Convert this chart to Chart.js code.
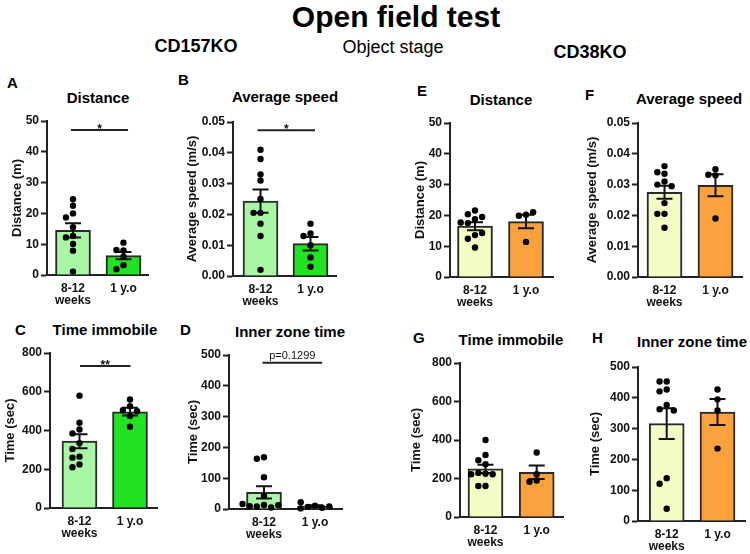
<!DOCTYPE html>
<html><head><meta charset="utf-8">
<script src="https://cdn.jsdelivr.net/npm/chart.js@4.4.1/dist/chart.umd.min.js"></script>
<style>
body{margin:0;width:750px;height:554px;background:#fff;position:relative;overflow:hidden;font-family:"Liberation Sans",Arial,sans-serif;}
.t{position:absolute;white-space:nowrap;color:#000;line-height:1;font-weight:bold;}
.c{transform:translateX(-50%);}
canvas{position:absolute;}
</style></head><body>
<div class="t c" style="left:396px;top:2px;font-size:30px;">Open field test</div>
<div class="t c" style="left:196px;top:37px;font-size:18px;">CD157KO</div>
<div class="t c" style="left:393px;top:38px;font-size:18px;font-weight:normal;">Object stage</div>
<div class="t c" style="left:590px;top:43px;font-size:18px;">CD38KO</div>

<div class="t c" style="left:98px;top:90px;font-size:15px;">Distance</div>
<div class="t c" style="left:285px;top:89px;font-size:15px;">Average speed</div>
<div class="t c" style="left:105px;top:322px;font-size:15px;">Time immobile</div>
<div class="t c" style="left:290px;top:324px;font-size:15px;">Inner zone time</div>
<div class="t c" style="left:501px;top:92px;font-size:15px;">Distance</div>
<div class="t c" style="left:689px;top:91px;font-size:15px;">Average speed</div>
<div class="t c" style="left:511px;top:332px;font-size:15px;">Time immobile</div>
<div class="t c" style="left:692px;top:334px;font-size:15px;">Inner zone time</div>

<div class="t" style="left:7px;top:75px;font-size:15px;">A</div>
<div class="t" style="left:178px;top:72px;font-size:15px;">B</div>
<div class="t" style="left:15px;top:322px;font-size:15px;">C</div>
<div class="t" style="left:180px;top:322px;font-size:15px;">D</div>
<div class="t" style="left:417px;top:83px;font-size:15px;">E</div>
<div class="t" style="left:585px;top:87px;font-size:15px;">F</div>
<div class="t" style="left:413px;top:330px;font-size:15px;">G</div>
<div class="t" style="left:592px;top:330px;font-size:15px;">H</div>

<script>
// ---------- data ----------
const categories = [['8-12', 'weeks'], '1 y.o'];

const distKoMeans = [14.5, 6.3];
const distKoSem = [2.3, 1.2];
const distKoYoung = [24.6, 22.5, 20.0, 18.7, 15.5, 12.7, 12.2, 10.1, 7.9, 1.1];
const distKoOld = [10.5, 8.0, 8.1, 6.0, 3.2, 1.9];

const speedKoMeans = [0.0243, 0.0105];
const speedKoSem = [0.0038, 0.0022];
const speedKoYoung = [0.041, 0.038, 0.033, 0.031, 0.025, 0.0205, 0.0205, 0.017, 0.013, 0.002];
const speedKoOld = [0.017, 0.0138, 0.013, 0.010, 0.006, 0.003];

const immKoMeans = [345, 497];
const immKoSem = [36, 20];
const immKoYoung = [580, 440, 405, 385, 335, 305, 265, 260, 225, 210];
const immKoOld = [560, 525, 505, 500, 475, 420];

const innerKoMeans = [54, 9];
const innerKoSem = [20, 3];
const innerKoYoung = [168, 163, 103, 43, 13, 8, 5, 9, 12, 16];
const innerKoOld = [11, 7, 4, 2, 8, 22];

const distCdMeans = [16.5, 18.0];
const distCdSem = [1.3, 2.2];
const distCdYoung = [21.6, 18.8, 20.4, 19.5, 17.5, 17.7, 13.6, 12.4, 14.3, 9.6];
const distCdOld = [20.2, 19.9, 21.0, 11.4];

const speedCdMeans = [0.0275, 0.0298];
const speedCdSem = [0.0021, 0.0036];
const speedCdYoung = [0.036, 0.034, 0.0335, 0.031, 0.030, 0.0295, 0.024, 0.0205, 0.0205, 0.016];
const speedCdOld = [0.035, 0.0332, 0.033, 0.019];

const immCdMeans = [250, 232];
const immCdSem = [22, 35];
const immCdYoung = [400, 322, 295, 274, 225, 229, 222, 222, 161, 161];
const immCdOld = [335, 222, 190, 183];

const innerCdMeans = [316, 354];
const innerCdSem = [50, 42];
const innerCdYoung = [453, 453, 427, 421, 377, 363, 359, 139, 121, 40];
const innerCdOld = [427, 395, 359, 235];

// ---------- styles ----------
const GREEN_L = '#a9f7a4', GREEN = '#22e322', YELLOW = '#f4fcc6', ORANGE = '#fba23f';
const FONT = '"Liberation Sans", Arial, sans-serif';

// swarm offsets (deterministic, avoids overlapping dots)
function swarm(vals, range) {
  const thr = range * 0.04, dx = 0.14, placed = [];
  return vals.map(v => {
    for (const c of [0, -1, 1, -2, 2, -3, 3]) {
      if (!placed.some(p => p.c === c && Math.abs(p.v - v) < thr)) { placed.push({c, v}); return c * dx; }
    }
    return 0;
  });
}

const errorBarPlugin = {
  id: 'errbars',
  afterDatasetDraw(chart, args) {
    if (args.index !== 0) return;
    const p = chart.config.options.plugins.errbars;
    const xs = chart.scales.x, ys = chart.scales.y, ctx = chart.ctx;
    ctx.save();
    ctx.strokeStyle = '#111'; ctx.lineWidth = 2;
    p.means.forEach((m, i) => {
      const x = xs.getPixelForValue(i);
      const y1 = ys.getPixelForValue(m + p.sem[i]), y2 = ys.getPixelForValue(m - p.sem[i]);
      ctx.beginPath();
      ctx.moveTo(x, y1); ctx.lineTo(x, y2);
      ctx.moveTo(x - 8, y1); ctx.lineTo(x + 8, y1);
      ctx.moveTo(x - 8, y2); ctx.lineTo(x + 8, y2);
      ctx.stroke();
    });
    ctx.restore();
  }
};

const sigPlugin = {
  id: 'sig',
  afterDraw(chart) {
    const s = chart.config.options.plugins.sig;
    if (!s || !s.text) return;
    const xs = chart.scales.x, ys = chart.scales.y, ctx = chart.ctx;
    const x1 = xs.getPixelForValue(s.from), x2 = xs.getPixelForValue(s.to), y = ys.getPixelForValue(s.y);
    ctx.save();
    ctx.strokeStyle = '#222'; ctx.lineWidth = 2;
    ctx.beginPath(); ctx.moveTo(x1, y); ctx.lineTo(x2, y); ctx.stroke();
    ctx.fillStyle = '#111';
    ctx.font = s.font; ctx.textAlign = 'center'; ctx.textBaseline = 'alphabetic';
    ctx.fillText(s.text, (x1 + x2) / 2, y - s.gap);
    ctx.restore();
  }
};

function panel(lay, d) {
  const padTop = 10, padRight = 8, xH = 40;
  const cv = document.createElement('canvas');
  const w = lay.R - lay.L + lay.yW + padRight, h = lay.B - lay.T + padTop + xH;
  cv.width = w; cv.height = h;
  cv.style.left = (lay.L - lay.yW) + 'px';
  cv.style.top = (lay.T - padTop) + 'px';
  document.body.appendChild(cv);
  const unit = lay.c2 - lay.c1;
  const xMin = (lay.L - lay.c1) / unit, xMax = (lay.R - lay.c1) / unit;
  const offY = swarm(d.young, d.yMax), offO = swarm(d.old, d.yMax);
  const pts = d.young.map((v, i) => ({x: 0 + offY[i], y: v}))
    .concat(d.old.map((v, i) => ({x: 1 + offO[i], y: v})));
  new Chart(cv, {
    type: 'bar',
    data: {
      datasets: [
        {type: 'bar', data: d.means.map((m, i) => ({x: i, y: m})), backgroundColor: d.colors,
         borderColor: '#2a2a2a', borderWidth: 2, barThickness: 35, order: 2},
        {type: 'scatter', data: pts, pointRadius: 3.2, pointBackgroundColor: '#000',
         pointBorderWidth: 0, order: 1, clip: false}
      ]
    },
    options: {
      responsive: false, animation: false, events: [],
      layout: {padding: {top: padTop, right: padRight, left: 0, bottom: 0}},
      plugins: {
        legend: {display: false}, tooltip: {enabled: false},
        errbars: {means: d.means, sem: d.sem},
        sig: d.sig
      },
      scales: {
        x: {
          type: 'linear', min: xMin, max: xMax, offset: false,
          afterFit(s) { s.height = xH; },
          afterBuildTicks(s) { s.ticks = [{value: 0}, {value: 1}]; },
          grid: {drawOnChartArea: false, drawTicks: false, offset: false},
          border: {display: true, color: '#222', width: 2},
          ticks: {padding: 8, autoSkip: false, maxRotation: 0, color: '#111',
                  font: {family: FONT, size: 12, weight: 'bold', lineHeight: 1.0},
                  callback: v => categories[v]}
        },
        y: {
          min: 0, max: d.yMax,
          afterFit(s) { s.width = lay.yW; },
          grid: {drawOnChartArea: false, drawTicks: true, tickLength: 6, tickWidth: 2, tickColor: '#222'},
          border: {display: true, color: '#222', width: 2},
          ticks: {stepSize: d.step, padding: 2, color: '#111',
                  font: {family: FONT, size: 12, weight: 'bold'},
                  callback: v => d.decimals ? Number(v).toFixed(d.decimals) : String(Math.round(v))},
          title: {display: true, text: d.yTitle, color: '#111', padding: {top: 2, bottom: 0},
                  font: {family: FONT, size: 13, weight: 'bold'}}
        }
      }
    },
    plugins: [errorBarPlugin, sigPlugin]
  });
}

const boldStar = 'bold 12px ' + FONT;

// A
panel({L: 47, R: 148, T: 121, B: 275, yW: 39, c1: 73, c2: 123.5},
  {means: distKoMeans, sem: distKoSem, young: distKoYoung, old: distKoOld, yMax: 50, step: 10,
   yTitle: 'Distance (m)', colors: [GREEN_L, GREEN],
   sig: {from: -0.04, to: 1.09, y: 47.1, text: '*', font: boldStar, gap: -3}});
// B
panel({L: 233, R: 336, T: 122, B: 276, yW: 50, c1: 260.5, c2: 310.5},
  {means: speedKoMeans, sem: speedKoSem, young: speedKoYoung, old: speedKoOld, yMax: 0.05, step: 0.01, decimals: 2,
   yTitle: 'Average speed (m/s)', colors: [GREEN_L, GREEN],
   sig: {from: -0.06, to: 1.09, y: 0.0473, text: '*', font: boldStar, gap: -3}});
// C
panel({L: 50, R: 157, T: 353, B: 508, yW: 49, c1: 79.5, c2: 130},
  {means: immKoMeans, sem: immKoSem, young: immKoYoung, old: immKoOld, yMax: 800, step: 200,
   yTitle: 'Time (sec)', colors: [GREEN_L, GREEN],
   sig: {from: 0.01, to: 1.01, y: 733, text: '**', font: boldStar, gap: -3}});
// D
panel({L: 229, R: 342, T: 355, B: 509, yW: 45, c1: 264, c2: 315},
  {means: innerKoMeans, sem: innerKoSem, young: innerKoYoung, old: innerKoOld, yMax: 500, step: 100,
   yTitle: 'Time (sec)', colors: [GREEN_L, GREEN],
   sig: {from: -0.03, to: 1.14, y: 475, text: 'p=0.1299', font: '11px ' + FONT, gap: 4}});
// E
panel({L: 450, R: 553, T: 123, B: 277, yW: 39, c1: 475, c2: 526},
  {means: distCdMeans, sem: distCdSem, young: distCdYoung, old: distCdOld, yMax: 50, step: 10,
   yTitle: 'Distance (m)', colors: [YELLOW, ORANGE]});
// F
panel({L: 638, R: 742, T: 123, B: 277, yW: 55, c1: 664.5, c2: 715.5},
  {means: speedCdMeans, sem: speedCdSem, young: speedCdYoung, old: speedCdOld, yMax: 0.05, step: 0.01, decimals: 2,
   yTitle: 'Average speed (m/s)', colors: [YELLOW, ORANGE]});
// G
panel({L: 460, R: 563, T: 363, B: 517, yW: 53, c1: 485.5, c2: 536.7},
  {means: immCdMeans, sem: immCdSem, young: immCdYoung, old: immCdOld, yMax: 800, step: 200,
   yTitle: 'Time (sec)', colors: [YELLOW, ORANGE]});
// H
panel({L: 638, R: 745, T: 367, B: 521, yW: 52, c1: 666.7, c2: 717.5},
  {means: innerCdMeans, sem: innerCdSem, young: innerCdYoung, old: innerCdOld, yMax: 500, step: 100,
   yTitle: 'Time (sec)', colors: [YELLOW, ORANGE]});
</script>
</body></html>
